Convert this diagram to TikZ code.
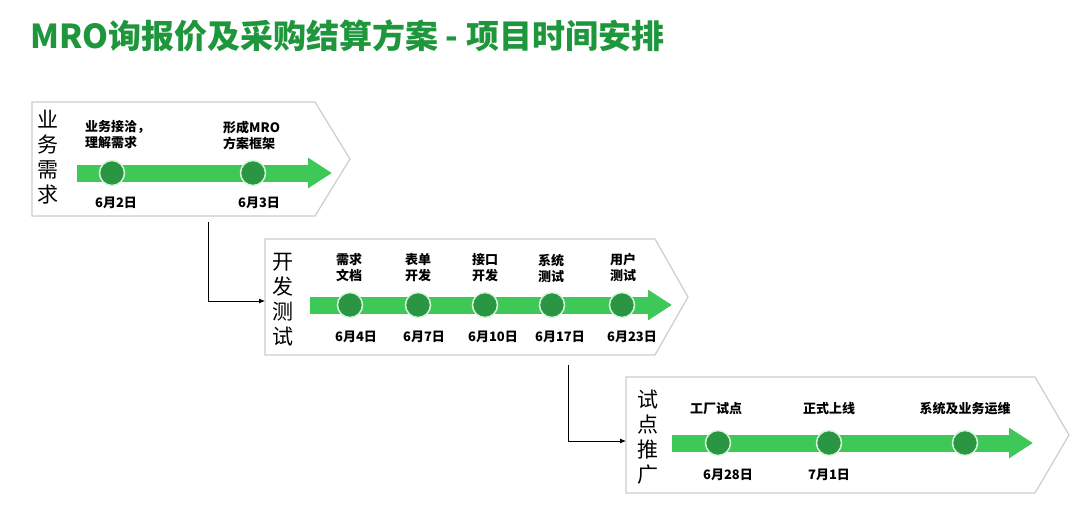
\documentclass[tikz,border=0pt]{standalone}
\usepackage{fontspec}
\setmainfont{Noto Sans CJK SC}
\usetikzlibrary{arrows.meta}

\definecolor{titlegreen}{RGB}{30,150,60}
\definecolor{arrowgreen}{RGB}{62,200,88}
\definecolor{dotgreen}{RGB}{42,150,68}
\definecolor{dotring}{RGB}{215,245,215}
\definecolor{boxgray}{RGB}{205,205,205}

\tikzset{
  phasebox/.style={draw=boxgray, line width=1.2pt, fill=white},
  flow/.style={draw=arrowgreen, line width=17pt, -{Triangle[length=24pt,width=29pt]}},
  mstone/.style={circle, fill=dotgreen, draw=dotring, line width=1.5pt, minimum size=25pt, inner sep=0pt},
  stagelabel/.style={font=\fontsize{21}{25}\selectfont, align=center, inner sep=0pt},
  task/.style={font=\bfseries\fontsize{13}{16}\selectfont, align=center, inner sep=0pt},
  when/.style={font=\bfseries\fontsize{13}{16}\selectfont, inner sep=0pt},
  link/.style={black, line width=0.8pt, -{Latex[length=6pt,width=5pt]}},
}

\begin{document}
\begin{tikzpicture}[x=1pt,y=-1pt]
\useasboundingbox (0,0) rectangle (1080,528);

\node[anchor=west, text=titlegreen, font=\bfseries\fontsize{33}{38}\selectfont, inner sep=0pt] (title) at (30,36) {MRO询报价及采购结算方案 - 项目时间安排};

% 业务需求
\draw[phasebox] (32,102) -- (315,102) -- (350,159) -- (315,216) -- (32,216) -- cycle;
\node[stagelabel] (s1) at (48,157.5) {业\\务\\需\\求};
\draw[flow] (77,173) -- (332,173);
\node[mstone] (m11) at (112,173) {};
\node[mstone] (m12) at (253,173) {};
\node[task, anchor=west, align=left] (t11) at (85,135) {业务接洽，\\理解需求};
\node[task, anchor=west, align=left] (t12) at (223,135) {形成MRO\\方案框架};
\node[when] (d11) at (116,203) {6月2日};
\node[when] (d12) at (259,203) {6月3日};

% 开发测试
\draw[phasebox] (265,239) -- (655,239) -- (688,297) -- (655,355) -- (265,355) -- cycle;
\node[stagelabel] (s2) at (283,300) {开\\发\\测\\试};
\draw[flow] (310,305) -- (672,305);
\node[mstone] (m21) at (350,305) {};
\node[mstone] (m22) at (418,305) {};
\node[mstone] (m23) at (485,305) {};
\node[mstone] (m24) at (552,305) {};
\node[mstone] (m25) at (622,305) {};
\node[task] (t21) at (349,268) {需求\\文档};
\node[task] (t22) at (418,268) {表单\\开发};
\node[task] (t23) at (485,268) {接口\\开发};
\node[task] (t24) at (551,268) {系统\\测试};
\node[task] (t25) at (623,268) {用户\\测试};
\node[when] (d21) at (356,337) {6月4日};
\node[when] (d22) at (424,337) {6月7日};
\node[when] (d23) at (493,337) {6月10日};
\node[when] (d24) at (560,337) {6月17日};
\node[when] (d25) at (632,337) {6月23日};

% 试点推广
\draw[phasebox] (626,377) -- (1035,377) -- (1069,435) -- (1035,493) -- (626,493) -- cycle;
\node[stagelabel] (s3) at (648,437) {试\\点\\推\\广};
\draw[flow] (672,443) -- (1033,443);
\node[mstone] (m31) at (718,443) {};
\node[mstone] (m32) at (829,443) {};
\node[mstone] (m33) at (965,443) {};
\node[task] (t31) at (716,409) {工厂试点};
\node[task] (t32) at (829,409) {正式上线};
\node[task] (t33) at (965,409) {系统及业务运维};
\node[when] (d31) at (728,475) {6月28日};
\node[when] (d32) at (829,475) {7月1日};

\coordinate (c1a) at (208,222);
\coordinate (c1b) at (265,301);
\coordinate (c2a) at (568,365);
\coordinate (c2b) at (626,441);
\draw[link] (c1a) |- (c1b);
\draw[link] (c2a) |- (c2b);
\end{tikzpicture}
\end{document}
